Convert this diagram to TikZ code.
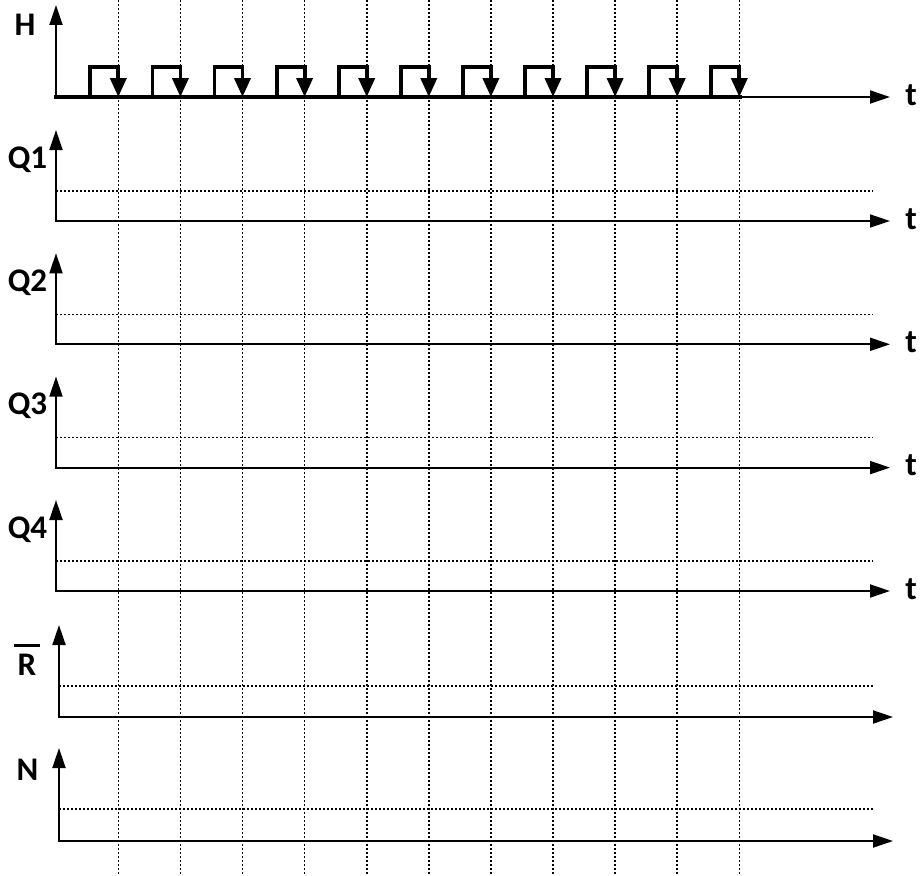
\documentclass[tikz,border=0pt]{standalone}
\usepackage{fontspec}
\setmainfont{Carlito}
\usetikzlibrary{arrows.meta}
\begin{document}
\begin{tikzpicture}[x=1pt,y=-1pt,
  axis/.style={line width=1.9pt,{Triangle[length=20pt,width=13pt]}-{Triangle[length=20pt,width=13pt]}},
  gridline/.style={line width=1.6pt,dash pattern=on 2pt off 2pt},
  lbl/.style={font=\fontsize{33}{36}\selectfont\bfseries,inner sep=0pt,anchor=base},
  clk/.style={line width=3.8pt},
  clkfall/.style={line width=3.8pt,-{Triangle[length=19pt,width=16pt]}}]
\useasboundingbox (0,0) rectangle (920,875);
% vertical dotted grid
\foreach \k in {0,...,10}{
  \draw[gridline] ({118.3+62.1*\k},0) -- ({118.3+62.1*\k},875);
}
% H axis
\coordinate (hO) at (56,97);
\draw[axis] (56,5) -- (hO) -- (890,97);
\node[lbl] (hl) at (25,36) {H};
\node[lbl] (ht) at (911,105) {t};
% clock
\draw[clk,line cap=rect] (hO) -- (740,97);
\foreach \k in {0,...,10}{
  \pgfmathsetmacro{\f}{118.3+62.1*\k}
  \pgfmathsetmacro{\r}{\f-28}
  \draw[clk] (\r,97) -- (\r,67) -- (\f,67);
  \draw[clkfall] (\f,65.1) -- (\f,97);
}
% Q axes
\foreach \i/\yb in {1/221,2/344.3,3/467.6,4/591}{
  \coordinate (q\i O) at (56,\yb);
  \draw[gridline] (q\i O) ++(0,-30) -- (873,\yb-30);
  \draw[axis] (56,\yb-91) -- (q\i O) -- (890,\yb);
  \node[lbl] (q\i l) at (27.5,\yb-53) {Q\i};
  \node[lbl] (q\i t) at (911,\yb+8) {t};
}
% R axis
\coordinate (rO) at (59,717);
\draw[gridline] (59,686) -- (873,686);
\draw[axis] (59,625) -- (rO) -- (893,717);
\node[lbl] (rl) at (27,675) {\vbox{\hrule width 26pt height 2.6pt\vskip 7pt\hbox to 26pt{\hss R\hss}}};
% N axis
\coordinate (nO) at (59,841);
\draw[gridline] (59,809) -- (873,809);
\draw[axis] (59,748) -- (nO) -- (893,841);
\node[lbl] (nl) at (27.5,780) {N};
\end{tikzpicture}
\end{document}
